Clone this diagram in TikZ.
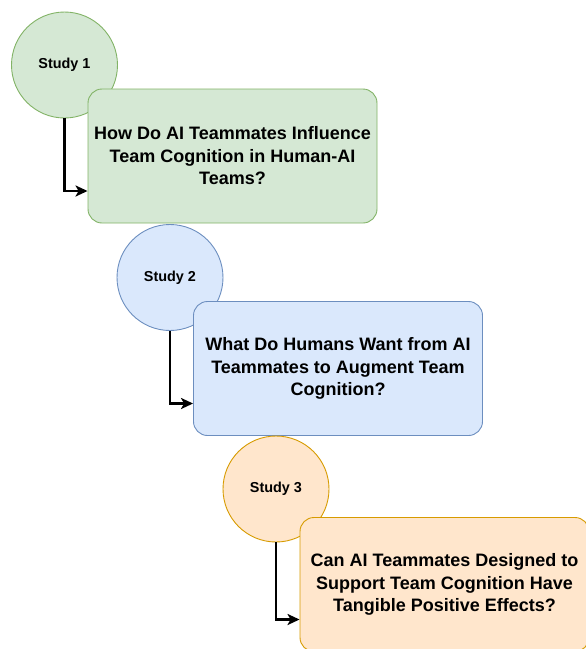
\documentclass[tikz,border=0pt]{standalone}
\usepackage{fontspec}
\setmainfont{Liberation Sans}
\usepackage{tikz}
\usetikzlibrary{arrows.meta}

\definecolor{greenfill}{HTML}{D5E8D4}
\definecolor{greenline}{HTML}{82B366}
\definecolor{bluefill}{HTML}{DAE8FC}
\definecolor{blueline}{HTML}{6C8EBF}
\definecolor{orangefill}{HTML}{FFE6CC}
\definecolor{orangeline}{HTML}{D79B00}

\tikzset{
	studycirc/.style={circle, draw=#1line, fill=#1fill, line width=0.9pt, minimum size=106pt, inner sep=0pt, font=\fontsize{14.4}{17}\selectfont\bfseries},
	qbox/.style={rectangle, rounded corners=14pt, draw=#1line, fill=#1fill, line width=0.9pt, minimum width=289pt, minimum height=134pt, align=center, font=\fontsize{18}{22.5}\selectfont\bfseries},
	flow/.style={-{Stealth[length=12pt,width=11pt,inset=3pt]}, line width=2.6pt, black}
}

\begin{document}
\begin{tikzpicture}[x=1pt,y=-1pt]
			\useasboundingbox (0,0) rectangle (586,649);
			
			\node[studycirc=green] (s1) at (64.5,65) {Study 1};
			\node[qbox=green] (q1) at (232.5,156) {How Do AI Teammates Influence\\Team Cognition in Human-AI\\Teams?};
			\draw[flow] (s1.south) |- ([yshift=-35pt]q1.west);
			
			\node[studycirc=blue] (s2) at (170,277.5) {Study 2};
			\node[qbox=blue] (q2) at (338,368.5) {What Do Humans Want from AI\\Teammates to Augment Team\\Cognition?};
			\draw[flow] (s2.south) |- ([yshift=-35pt]q2.west);
			
			\node[studycirc=orange] (s3) at (276,489) {Study 3};
			\node[qbox=orange] (q3) at (444.5,584.5) {Can AI Teammates Designed to\\Support Team Cognition Have\\Tangible Positive Effects?};
			\draw[flow] (s3.south) |- ([yshift=-35pt]q3.west);
			
		\end{tikzpicture}
\end{document}
